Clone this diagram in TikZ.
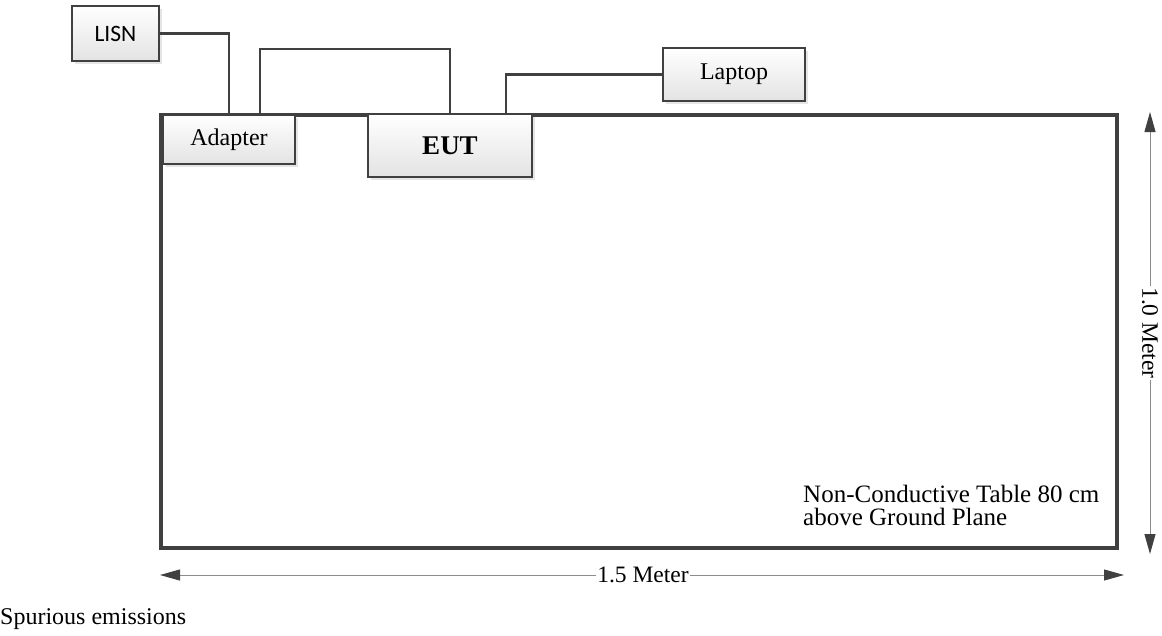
\documentclass[tikz,border=0pt]{standalone}
\usepackage{fontspec}
\setmainfont{Liberation Serif}
\newfontfamily\lisnfont{Carlito}
\usetikzlibrary{arrows.meta,shadows,calc}
\definecolor{edge}{HTML}{404040}
\definecolor{dimline}{HTML}{8C8C8C}
\begin{document}
\begin{tikzpicture}[x=1pt,y=-1pt,
  box/.style={draw=edge, line width=2.4pt, rectangle, inner sep=0pt,
    top color=white, bottom color=black!11,
    drop shadow={shadow xshift=3pt, shadow yshift=-3pt, opacity=0.25, fill=black!40},
    font=\fontsize{24}{28}\selectfont},
  wire/.style={draw=edge, line width=2.4pt},
  dim/.style={draw=dimline, line width=1pt,
    {Triangle[length=20pt,width=11pt,color=edge]}-{Triangle[length=20pt,width=11pt,color=edge]}},
  dimlabel/.style={fill=white, inner sep=1.5pt, font=\fontsize{23.5}{28}\selectfont}]
\useasboundingbox (0,0) rectangle (1162,635);
% table
\node[draw=edge, line width=3.2pt, rectangle, inner sep=0pt,
  minimum width=956pt, minimum height=433pt] (table) at (639,331.5) {};
% boxes
\node[box, minimum width=87pt, minimum height=55pt, font=\lisnfont\fontsize{23.5}{28}\selectfont] (lisn) at (115.5,33.5) {LISN};
\node[box, minimum width=132pt, minimum height=49pt] (adapter) at (229,139.5) {Adapter};
\node[box, minimum width=164pt, minimum height=63pt, font=\fontsize{27}{30}\selectfont\bfseries] (eut) at (450,145.5) {EUT};
\node[box, minimum width=142pt, minimum height=53pt] (laptop) at (734,74.5) {Laptop};
% wires
\draw[wire] (lisn.east) -| (adapter.north);
\draw[wire] ([xshift=31pt]adapter.north) -- ++(0,-65) -| (eut.north);
\draw[wire] ([xshift=56pt]eut.north) |- (laptop.west);
% table label
\node[anchor=base west, align=left, inner sep=0pt, font=\fontsize{25}{23}\selectfont] (tabletext) at (803,525)
  {Non-Conductive Table 80 cm\\above Ground Plane};
% dimensions
\coordinate (hl) at (160,575);
\coordinate (hr) at (1124,575);
\draw[dim] (hl) -- (hr);
\node[dimlabel] (hlabel) at (643,575) {1.5 Meter};
\coordinate (vt) at (1150,112);
\coordinate (vb) at (1150,554);
\draw[dim] (vt) -- (vb);
\node[dimlabel, rotate=-90] (vlabel) at (1150,333) {1.0 Meter};
% caption
\node[anchor=base west, inner sep=0pt, font=\fontsize{24}{28}\selectfont] (caption) at (0,624) {Spurious emissions};
\end{tikzpicture}
\end{document}
